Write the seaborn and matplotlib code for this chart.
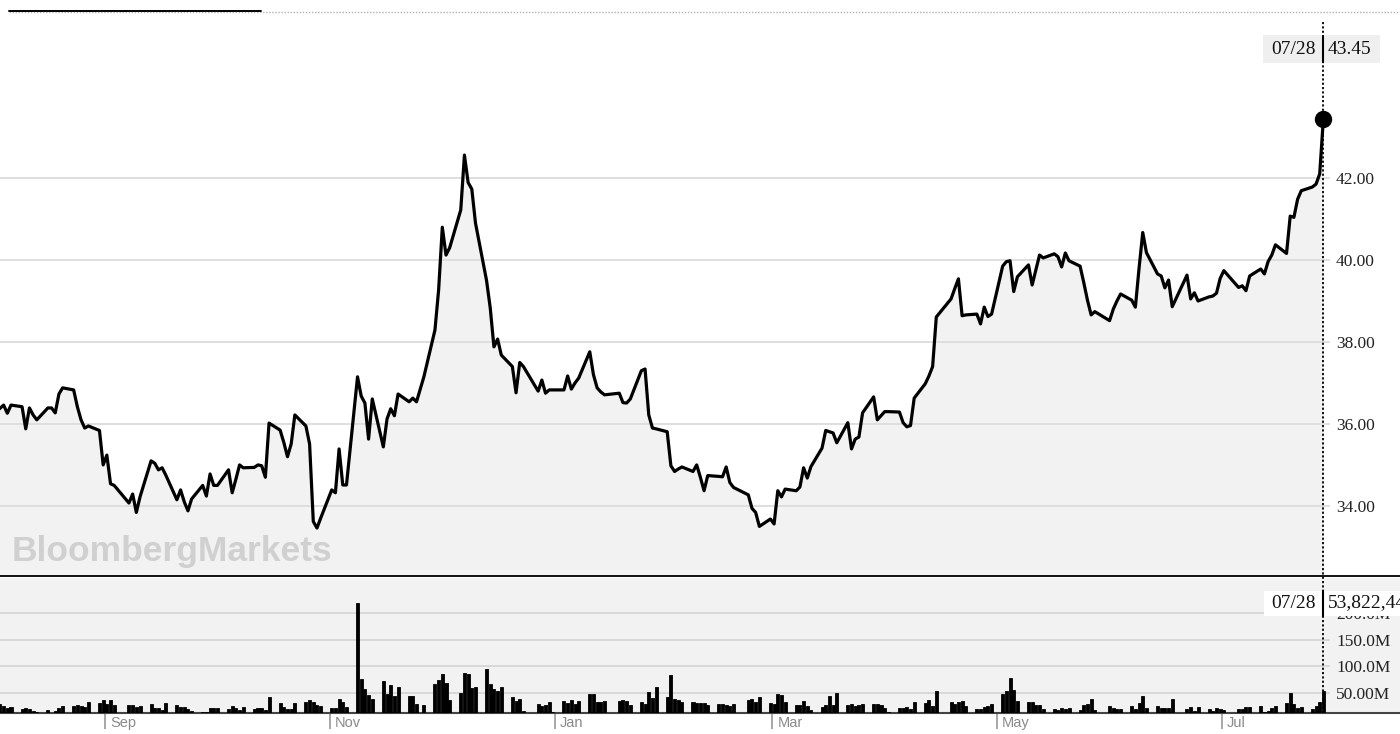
import pandas as pd
import numpy as np
import matplotlib
matplotlib.use("Agg")
import matplotlib.pyplot as plt
import matplotlib.dates as mdates
import matplotlib.transforms as mtransforms
from matplotlib.lines import Line2D
from matplotlib.patches import Rectangle
from matplotlib.ticker import FormatStrFormatter
import seaborn as sns

sns.set_style("white")
plt.rcParams['font.family'] = ['Liberation Serif', 'DejaVu Serif']

# market holidays (no bar, no point)
holidays = ["2021-09-06", "2021-11-25", "2021-12-24", "2022-01-17", "2022-02-21",
            "2022-04-15", "2022-05-30", "2022-06-20", "2022-07-04"]

months = ["2021-08", "2021-09", "2021-10", "2021-11", "2021-12", "2022-01",
          "2022-02", "2022-03", "2022-04", "2022-05", "2022-06", "2022-07"]

# closing price, one value per trading day
price_aug = [36.30, 36.38, 36.46, 36.26, 36.46, 36.42, 35.88, 36.39, 36.22, 36.10, 36.39,
             36.39, 36.27, 36.73, 36.88, 36.83, 36.42, 36.10, 35.90, 35.95, 35.84, 35.00]
price_sep = [35.24, 34.54, 34.50, 34.07, 34.29, 33.84, 34.22, 35.10, 35.04, 34.88, 34.93,
             34.75, 34.15, 34.39, 34.10, 33.88, 34.17, 34.50, 34.24, 34.78, 34.50]
price_oct = [34.50, 34.88, 34.32, 34.65, 35.00, 34.93, 34.94, 35.00, 34.98, 34.70, 36.02,
             35.85, 35.55, 35.20, 35.51, 36.22, 35.95, 35.51, 33.62, 33.46, 33.70]
price_nov = [34.39, 34.32, 35.39, 34.51, 34.51, 37.15, 36.68, 36.51, 35.63, 36.61, 35.44,
             36.12, 36.37, 36.20, 36.73, 36.54, 36.63, 36.54, 37.15, 38.29, 39.27]
price_dec = [40.80, 40.12, 40.30, 41.22, 42.56, 41.89, 41.73, 40.90, 39.50, 38.83, 37.88,
             38.07, 37.68, 37.40, 36.76, 37.50, 37.40, 36.80, 37.07, 36.75, 36.83, 36.83]
price_jan = [36.83, 37.17, 36.85, 37.00, 37.12, 37.76, 37.20, 36.88, 36.78, 36.71, 36.75,
             36.52, 36.51, 36.61, 37.30, 37.34, 36.22, 35.90, 35.88, 35.81]
price_feb = [34.98, 34.84, 34.90, 34.95, 34.84, 35.00, 34.70, 34.37, 34.74, 34.72, 34.71,
             34.95, 34.57, 34.45, 34.27, 33.94, 33.84, 33.50, 33.68]
price_mar = [33.56, 34.37, 34.22, 34.41, 34.37, 34.46, 34.93, 34.68, 34.96, 35.41, 35.84,
             35.81, 35.78, 35.54, 36.03, 35.39, 35.63, 35.68, 36.27, 36.66, 36.10, 36.20, 36.30]
price_apr = [36.30, 36.29, 36.03, 35.93, 35.96, 36.63, 36.98, 37.17, 37.40, 38.61, 39.05,
             39.30, 39.54, 38.64, 38.66, 38.68, 38.44, 38.85, 38.62, 38.68]
price_may = [39.85, 39.96, 39.98, 39.23, 39.59, 39.88, 39.39, 39.75, 40.12, 40.05, 40.15,
             40.08, 39.83, 40.17, 39.98, 39.85, 39.45, 39.02, 38.66, 38.74, 38.52]
price_jun = [38.80, 39.00, 39.17, 39.02, 38.85, 39.80, 40.67, 40.18, 39.66, 39.61, 39.32,
             39.51, 38.86, 39.63, 39.05, 39.20, 39.00, 39.10, 39.12, 39.19, 39.55]
price_jul = [39.74, 39.33, 39.37, 39.25, 39.61, 39.78, 39.66, 39.96, 40.12, 40.37, 40.16,
             41.07, 41.04, 41.48, 41.69, 41.78, 41.85, 42.10, 43.45]

# volume in millions, one value per trading day
vol_aug = [25, 28.5, 24.7, 21.5, 22.8, 20, 21, 20, 15, 12.6, 17, 12, 15, 22, 24.7, 24.7,
           26, 24.7, 22.8, 32, 29.7, 35.4]
vol_sep = [29, 35.4, 26.6, 26.6, 27.2, 22.8, 24, 28.5, 22, 22, 17, 31, 26, 22.8, 22.8,
           20, 14.5, 14, 13.3, 22, 22]
vol_oct = [21.5, 19, 24.7, 22, 17, 23.4, 19.6, 21.5, 22, 16.4, 41, 31, 22.8, 19, 19,
           29.7, 32, 35.4, 32, 26.6, 25.3]
vol_nov = [21.5, 21.5, 39, 33, 23.4, 219.5, 76.5, 57, 45.5, 39, 72, 47.4, 64, 43.6, 61.4,
           44.3, 43, 27.8, 26, 65.8, 74]
vol_dec = [84.8, 69, 36, 48.7, 87, 86, 58, 61.4, 95.5, 66, 57, 53, 60.7, 41, 34.8, 37.3,
           15.8, 27.8, 24.7, 26, 31.6, 13]
vol_jan = [34, 29.7, 35.4, 28.5, 34, 48, 48, 31.6, 31.6, 34.8, 34, 35.4, 34, 26.6, 31.6,
           28.5, 50.6, 40.5, 60.7, 41]
vol_feb = [84, 39, 35.4, 32, 31.6, 31, 30.4, 31, 26, 29, 29, 26.6, 24, 28.5, 35.4, 38,
           31.6, 42.4, 31]
vol_mar = [28.5, 46.8, 46.2, 31.6, 26, 26, 34, 25.3, 17, 22.8, 26, 43.6, 26, 48.7, 26.6,
           28.5, 24.7, 26, 28.5, 27.8, 27.8, 27.2, 22]
vol_apr = [14, 22, 22, 23.4, 19.6, 32, 31, 35.4, 25.3, 53.8, 31.6, 28.5, 33, 33.5, 25.3,
           20, 20, 23.4, 24.7, 29]
vol_may = [46.8, 53, 77, 56, 34.8, 31.6, 31.6, 26.6, 26, 19, 18.3, 17, 21, 20, 22, 17,
           26.6, 28.5, 39, 17, 24.7]
vol_jun = [21, 19.6, 20, 24.7, 19.6, 29.7, 43.6, 22, 24.7, 21.5, 21, 21.5, 39, 20, 23.4,
           15.2, 23.4, 19, 15.8, 21.5, 20]
vol_jul = [16.4, 19, 19, 22.8, 22.8, 24.7, 12.6, 15.8, 22, 24.7, 29.7, 48.7, 28.5, 22,
           22.8, 20, 25, 33, 53.82244]

price_ticks = [34, 36, 38, 40, 42]
vol_ticks = [50, 100, 150, 200]
vol_tick_labels = ["50.00M", "100.0M", "150.0M", "200.0M"]
month_ticks = ["2021-09-01", "2021-11-01", "2022-01-01", "2022-03-01", "2022-05-01", "2022-07-01"]
month_labels = ["Sep", "Nov", "Jan", "Mar", "May", "Jul"]

price_months = [price_aug, price_sep, price_oct, price_nov, price_dec, price_jan,
                price_feb, price_mar, price_apr, price_may, price_jun, price_jul]
vol_months = [vol_aug, vol_sep, vol_oct, vol_nov, vol_dec, vol_jan,
              vol_feb, vol_mar, vol_apr, vol_may, vol_jun, vol_jul]

frames = []
for m, p, v in zip(months, price_months, vol_months):
    start = pd.Timestamp(m + "-01")
    end = start + pd.offsets.MonthEnd(0)
    if m == "2021-08":
        start = pd.Timestamp("2021-08-02")
    if m == "2022-07":
        end = pd.Timestamp("2022-07-28")
    days = pd.bdate_range(start, end, freq="C", holidays=holidays)
    n = min(len(days), len(p), len(v))
    if n != len(days) or n != len(p) or n != len(v):
        print("length mismatch", m, len(days), len(p), len(v))
    frames.append(pd.DataFrame({"date": days[:n], "price": p[:n], "volume": v[:n]}))
df = pd.concat(frames, ignore_index=True)
df["pos"] = df["date"] + pd.Timedelta(hours=12)

last = df.iloc[-1]

# ---- layout (pixels of a 1400x734 canvas)
W, H = 1400, 734
px_per_day = 3.6865
fig = plt.figure(figsize=(W / 100, H / 100), dpi=100)


def fx(px):
    return px / W


def fy(py):
    return 1 - py / H


ax1 = fig.add_axes([0, fy(576), 1, (576 - 12) / H])
ax2 = fig.add_axes([0, fy(713), 1, (713 - 578) / H])

sep1 = pd.Timestamp("2021-09-01")
x0 = sep1 - pd.Timedelta(days=105 / px_per_day)
x1 = sep1 + pd.Timedelta(days=(W - 105) / px_per_day)

# ---- price panel
pmin, pmax = 32.29, 46.05
ax1.set_xlim(x0, x1)
ax1.set_ylim(pmin, pmax)
ax1.fill_between(df["pos"], df["price"], pmin, color="#f2f2f2", lw=0, zorder=1)
ax1.hlines(price_ticks, 0, fx(1330), transform=ax1.get_yaxis_transform(),
           color="#dcdcdc", lw=1.3, zorder=2)
ax1.text(12 / W, (576 - 552) / 564, "BloombergMarkets", transform=ax1.transAxes,
         fontsize=25.5, fontweight="bold", color="#d0d0d0", ha="left", va="center",
         family=["Liberation Sans", "DejaVu Sans"], zorder=2.5)
sns.lineplot(data=df, x="pos", y="price", ax=ax1, color="black", lw=2.3, zorder=3)
ax1.plot([last["pos"]], [last["price"]], "o", ms=11.5, color="black", zorder=4)

ax1.set_xlabel("")
ax1.set_ylabel("")
ax1.set_xticks([])
ax1.yaxis.set_ticks_position("right")
ax1.set_yticks(price_ticks)
ax1.yaxis.set_major_formatter(FormatStrFormatter("%.2f"))
ax1.tick_params(axis="y", length=0, pad=-46, labelsize=12.5, labelcolor="#222222")
for s in ["top", "left", "right"]:
    ax1.spines[s].set_visible(False)
ax1.spines["bottom"].set_color("black")
ax1.spines["bottom"].set_linewidth(1.3)

# ---- volume panel
ax2.set_facecolor("#f2f2f2")
ax2.set_xlim(x0, x1)
ax2.set_ylim(11.6, 267.2)
ax2.hlines(vol_ticks, 0, fx(1330), transform=ax2.get_yaxis_transform(),
           color="#d6d6d6", lw=1.3, zorder=1)
ax2.bar(df["pos"], df["volume"], width=0.82, color="black", edgecolor="black",
        lw=0.6, zorder=3)
ax2.yaxis.set_ticks_position("right")
ax2.set_yticks(vol_ticks)
ax2.set_yticklabels(vol_tick_labels)
ax2.tick_params(axis="y", length=0, pad=-46, labelsize=12.5, labelcolor="#222222")
ax2.set_xticks(pd.to_datetime(month_ticks))
ax2.set_xticklabels(month_labels, family=["Liberation Sans", "DejaVu Sans"],
                    fontsize=10.5, color="#8a8a8a")
ax2.tick_params(axis="x", length=11.5, width=1.3, color="#a0a0a0", pad=-9.5,
                direction="out", bottom=True)
shift = mtransforms.ScaledTranslation(5 / 100, 0, fig.dpi_scale_trans)
for lbl in ax2.get_xticklabels():
    lbl.set_horizontalalignment("left")
    lbl.set_transform(lbl.get_transform() + shift)
for s in ["top", "left", "right"]:
    ax2.spines[s].set_visible(False)
ax2.spines["bottom"].set_color("#444444")
ax2.spines["bottom"].set_linewidth(1.5)

# ---- overlays
fig.add_artist(Line2D([fx(9), 1], [fy(12), fy(12)], color="#b4b4b4", lw=1,
                      ls=(0, (1, 1.2)), transform=fig.transFigure))
fig.add_artist(Line2D([fx(9), fx(261)], [fy(11), fy(11)], color="black", lw=1.4,
                      transform=fig.transFigure))

xd = mdates.date2num(last["pos"])
trans = mtransforms.blended_transform_factory(ax1.transData, fig.transFigure)
fig.add_artist(Line2D([xd, xd], [fy(22), fy(713)], transform=trans, color="black",
                      lw=1.3, ls=(0, (1.2, 1.2)), zorder=6))

date_label = last["date"].strftime("%m/%d")

# price call-out
fig.add_artist(Rectangle((fx(1263), fy(63)), fx(117), 28 / H, transform=fig.transFigure,
                         fc="#efefef", ec="none", zorder=5))
fig.add_artist(Line2D([xd, xd], [fy(37), fy(62)], transform=trans, color="black",
                      lw=1.5, zorder=6))
fig.text(fx(1316), fy(49), date_label, ha="right", va="center",
         fontsize=14, color="#111111", zorder=7)
fig.text(fx(1328), fy(49), f"{last['price']:.2f}", ha="left", va="center",
         fontsize=14, color="#111111", zorder=7)

# volume call-out
fig.add_artist(Rectangle((fx(1264), fy(616)), fx(136), 25 / H, transform=fig.transFigure,
                         fc="white", ec="none", zorder=5))
fig.add_artist(Line2D([xd, xd], [fy(591), fy(616)], transform=trans, color="black",
                      lw=1.5, zorder=6))
fig.text(fx(1316), fy(603), date_label, ha="right", va="center",
         fontsize=14, color="#111111", zorder=7)
fig.text(fx(1328), fy(603), f"{last['volume'] * 1e6:,.0f}", ha="left", va="center",
         fontsize=14, color="#111111", zorder=7)

fig.savefig("out.png", dpi=100)
